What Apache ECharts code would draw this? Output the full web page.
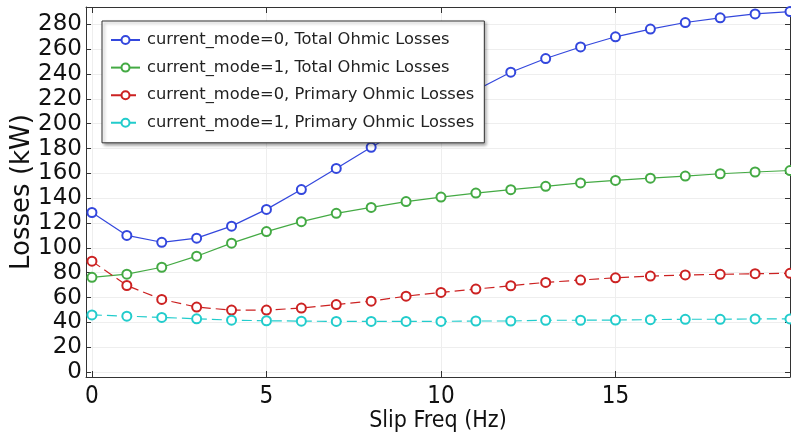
<!DOCTYPE html>
<html>
<head>
<meta charset="utf-8">
<script src="https://cdn.jsdelivr.net/npm/echarts@6/dist/echarts.min.js"></script>
<style>html,body{margin:0;padding:0;background:#fff}#c{width:791px;height:439px}</style>
</head>
<body>
<div id="c"></div>
<script>
const slipFreq = [0,1,2,3,4,5,6,7,8,9,10,11,12,13,14,15,16,17,18,19,20];
const mode0Total = [128.5,110,104.5,107.8,117.5,131,147,164,181,197,212,227,241.5,252.5,261.8,270,276.2,281.5,285.3,288.4,290.3];
const mode1Total = [76.3,78.8,84.4,93.3,103.8,113.1,121.1,127.8,132.6,137.3,140.9,144.1,146.9,149.6,152.3,154.3,156.1,157.8,159.7,161.1,162.3];
const mode0Primary = [89.3,69.7,58.5,52.3,49.9,49.9,51.5,54.3,57.1,61.1,64.1,66.8,69.5,72.2,74.1,75.9,77.3,78.2,78.7,79.2,79.5];
const mode1Primary = [46,45,44,42.9,41.8,41.3,41,40.8,40.8,40.8,40.8,41.1,41.1,41.7,41.7,41.9,42.2,42.5,42.5,42.8,42.8];
const seriesNames = ['current_mode=0, Total Ohmic Losses','current_mode=1, Total Ohmic Losses','current_mode=0, Primary Ohmic Losses','current_mode=1, Primary Ohmic Losses'];
const xTicks = [0,5,10,15];
const yTicks = [0,20,40,60,80,100,120,140,160,180,200,220,240,260,280];

const font = 'DejaVu Sans';
const fontC = '"DejaVu Sans Condensed", "DejaVu Sans"';
const colors = ['#3347dd','#44aa44','#cc2222','#22cccc'];
const dashed = [false,false,true,true];
const values = [mode0Total, mode1Total, mode0Primary, mode1Primary];

const chart = echarts.init(document.getElementById('c'), null, {renderer:'canvas'});
const series = values.map((v,i)=>({
  name: seriesNames[i],
  type: 'line',
  data: slipFreq.map((x,j)=>[x, v[j]]),
  symbol: 'emptyCircle',
  symbolSize: 9,
  showSymbol: true,
  showAllSymbol: true,
  clip: false,
  color: colors[i],
  lineStyle: {width: 1.2, type: dashed[i] ? [10,5] : 'solid', color: colors[i]},
  itemStyle: {borderWidth: 1.6, color: colors[i]},
  emphasis: {disabled: true},
  animation: false
}));

chart.setOption({
  animation: false,
  backgroundColor: '#fff',
  grid: {left: 86, right: 1, top: 7, bottom: 62, containLabel: false, outerBoundsMode: 'none'},
  legend: {
    orient: 'vertical',
    left: 102, top: 21,
    data: seriesNames,
    backgroundColor: '#fff',
    borderColor: '#333',
    borderWidth: 1,
    padding: [11, 10, 12, 8],
    itemGap: 11.6,
    itemWidth: 29,
    itemHeight: 10,
    shadowColor: 'rgba(0,0,0,0.35)',
    shadowBlur: 3,
    shadowOffsetX: 2,
    shadowOffsetY: 2,
    textStyle: {fontFamily: font, fontSize: 16.3, color: '#222', padding: [0,0,0,2]}
  },
  xAxis: [{
    type: 'value', min: -0.17, max: 20, position: 'bottom',
    name: 'Slip Freq (Hz)', nameLocation: 'middle', nameGap: 33, nameMoveOverlap: false,
    nameTextStyle: {fontFamily: fontC, fontSize: 23, color: '#111'},
    axisLine: {show: true, onZero: false, lineStyle: {color: '#333', width: 1}},
    axisTick: {show: true, inside: true, length: 6, customValues: xTicks, lineStyle: {color: '#333'}},
    axisLabel: {customValues: xTicks, fontFamily: fontC, fontSize: 24, color: '#111', margin: 8},
    splitLine: {show: true, lineStyle: {color: '#eeeeee', width: 1}}
  },{
    type: 'value', min: -0.17, max: 20, position: 'top',
    axisLine: {show: true, onZero: false, lineStyle: {color: '#333', width: 1}},
    axisTick: {show: true, inside: true, length: 6, customValues: xTicks, lineStyle: {color: '#333'}},
    axisLabel: {show: false},
    splitLine: {show: false}
  }],
  yAxis: [{
    type: 'value', min: -4, max: 294, position: 'left',
    name: 'Losses (kW)', nameLocation: 'middle', nameGap: 51, nameRotate: 90, nameMoveOverlap: false,
    nameTextStyle: {fontFamily: font, fontSize: 26, color: '#111'},
    axisLine: {show: true, onZero: false, lineStyle: {color: '#333', width: 1}},
    axisTick: {show: true, inside: true, length: 5, customValues: yTicks, lineStyle: {color: '#333'}},
    axisLabel: {customValues: yTicks, fontFamily: font, fontSize: 23, color: '#111', margin: 4},
    splitLine: {show: true, lineStyle: {color: '#eeeeee', width: 1}}
  },{
    type: 'value', min: -4, max: 294, position: 'right',
    axisLine: {show: true, onZero: false, lineStyle: {color: '#333', width: 1}},
    axisTick: {show: true, inside: true, length: 5, customValues: yTicks, lineStyle: {color: '#333'}},
    axisLabel: {show: false},
    splitLine: {show: false}
  }],
  series: series
});
</script>
</body>
</html>
